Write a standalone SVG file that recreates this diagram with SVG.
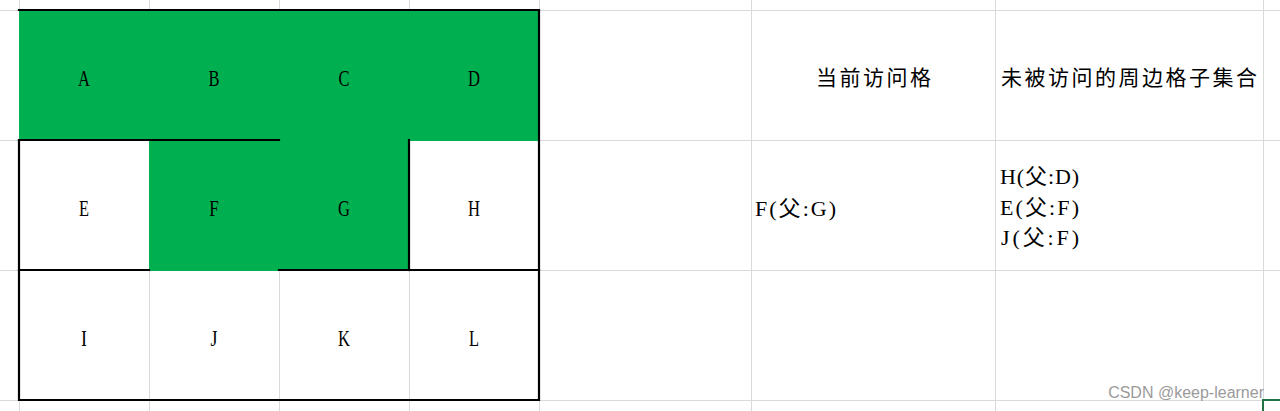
<svg xmlns="http://www.w3.org/2000/svg" width="1280" height="411" viewBox="0 0 1280 411">
<style>
.grid{stroke:#DADADA;stroke-width:1;fill:none}
.green{fill:#00B050}
.bd{stroke:#000;stroke-width:2.2;fill:none;stroke-linecap:square}
.cl{font-family:"Liberation Serif","Noto Sans CJK SC",serif;font-size:24px;fill:#000;text-anchor:middle}
.hd{font-family:"Noto Sans CJK SC",sans-serif;font-size:21px;fill:#000}
.tx{font-family:"Liberation Serif","Noto Sans CJK SC",serif;font-size:22px;fill:#000}
.wm{font-family:"Liberation Sans",Arial,sans-serif;font-size:16px;fill:#9A9A9A;text-anchor:end}
</style>
<rect width="1280" height="411" fill="#FFFFFF"/>
<g id="gridlines" class="grid">
<path d="M19.5 0V411M149.5 0V411M279.5 0V411M409.5 0V411M539.5 0V411M751.5 0V411M995.5 0V411M1263.5 0V400"/>
<path d="M0 10.5H1280M0 140.5H1280M0 270.5H1280M0 400.5H1280"/>
</g>
<g id="fills">
<rect class="green" x="19" y="10" width="521" height="131"/>
<rect class="green" x="149" y="140" width="261" height="131"/>
</g>
<g id="cell-A"><text class="cl" x="84" y="86" textLength="12" lengthAdjust="spacingAndGlyphs">A</text></g>
<g id="cell-B"><text class="cl" x="214" y="86" textLength="11" lengthAdjust="spacingAndGlyphs">B</text></g>
<g id="cell-C"><text class="cl" x="344" y="86" textLength="11" lengthAdjust="spacingAndGlyphs">C</text></g>
<g id="cell-D"><text class="cl" x="474" y="86" textLength="12" lengthAdjust="spacingAndGlyphs">D</text></g>
<g id="cell-E"><text class="cl" x="84" y="216" textLength="10" lengthAdjust="spacingAndGlyphs">E</text></g>
<g id="cell-F"><text class="cl" x="214" y="216" textLength="9.5" lengthAdjust="spacingAndGlyphs">F</text></g>
<g id="cell-G"><text class="cl" x="344" y="216" textLength="12" lengthAdjust="spacingAndGlyphs">G</text></g>
<g id="cell-H"><text class="cl" x="474" y="216" textLength="12" lengthAdjust="spacingAndGlyphs">H</text></g>
<g id="cell-I"><text class="cl" x="84" y="346" textLength="6" lengthAdjust="spacingAndGlyphs">I</text></g>
<g id="cell-J"><text class="cl" x="214" y="346" textLength="7" lengthAdjust="spacingAndGlyphs">J</text></g>
<g id="cell-K"><text class="cl" x="344" y="346" textLength="12" lengthAdjust="spacingAndGlyphs">K</text></g>
<g id="cell-L"><text class="cl" x="474" y="346" textLength="10" lengthAdjust="spacingAndGlyphs">L</text></g>
<g id="borders" class="bd">
<path d="M19 10H539V400H19V140"/>
<path d="M19 140H279"/>
<path d="M409 140V270"/>
<path d="M19 270H149M279 270H539"/>
</g>
<g id="header-current"><text class="hd" x="873.5" y="85" text-anchor="middle" textLength="115" lengthAdjust="spacing">当前访问格</text></g>
<g id="header-unvisited"><text class="hd" x="1001" y="85" textLength="256" lengthAdjust="spacing">未被访问的周边格子集合</text></g>
<g id="current-value"><text class="tx" x="755" y="216" textLength="81" lengthAdjust="spacing">F(父:G)</text></g>
<g id="unvisited-values">
<text class="tx" x="1000" y="184" textLength="79" lengthAdjust="spacing">H(父:D)</text>
<text class="tx" x="1000" y="215" textLength="79" lengthAdjust="spacing">E(父:F)</text>
<text class="tx" x="1001" y="245" textLength="78" lengthAdjust="spacing">J(父:F)</text>
</g>
<g id="selection"><path d="M1263 411V400H1280" stroke="#217346" stroke-width="2" fill="none"/></g>
<g id="connectors"></g>
<text class="wm" x="1264" y="398">CSDN @keep-learner</text>
</svg>
